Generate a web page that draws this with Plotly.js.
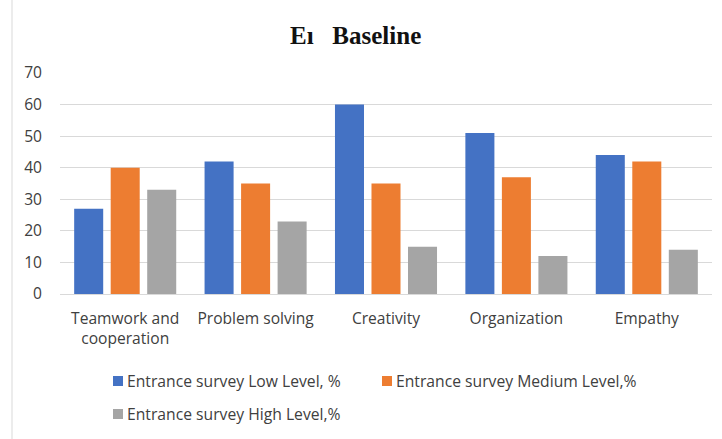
<!DOCTYPE html>
<html><head><meta charset="utf-8">
<script src="https://cdn.plot.ly/plotly-3.0.1.min.js"></script>
<style>html,body{margin:0;padding:0;background:#fff}#chart{width:722px;height:439px}</style>
</head><body><div id="chart"></div>
<script>
const categories = ["Teamwork and<br>cooperation", "Problem solving", "Creativity", "Organization", "Empathy"];
const lowLevel = [27, 42, 60, 51, 44];
const mediumLevel = [40, 35, 35, 37, 42];
const highLevel = [33, 23, 15, 12, 14];
const seriesNames = ["Entrance survey Low Level, %", "Entrance survey Medium Level,%", "Entrance survey High Level,%"];
const yTicks = [0, 10, 20, 30, 40, 50, 60, 70];

const colors = ["#4472C4", "#ED7D31", "#A5A5A5"];
const font = "'Open Sans', sans-serif";
const data = [lowLevel, mediumLevel, highLevel].map((v, i) => ({
  type: "bar", x: categories, y: v, name: seriesNames[i],
  marker: {color: colors[i]}, hoverinfo: "none", showlegend: false
}));

// manual legend placement (pixel -> paper)
const L = 60, W = 652, B = 294, H = 221;
const px = p => (p - L) / W, py = p => (B - p) / H;
const legendSpots = [{x: 113, y: 381}, {x: 382, y: 381}, {x: 113, y: 414}];
const shapes = [{type: "line", xref: "paper", yref: "paper", x0: px(12), x1: px(12), y0: py(439), y1: py(0),
                 line: {color: "#d9d9d9", width: 1}}];
const annotations = [];
legendSpots.forEach((s, i) => {
  shapes.push({type: "rect", xref: "paper", yref: "paper", x0: px(s.x), x1: px(s.x + 10), y0: py(s.y - 5), y1: py(s.y + 5),
               fillcolor: colors[i], line: {width: 0}});
  annotations.push({xref: "paper", yref: "paper", x: px(s.x + 12), y: py(s.y), xanchor: "left", yanchor: "middle",
                    text: seriesNames[i], showarrow: false, font: {family: font, size: 15.7, color: "#404040"}});
});

const layout = {
  width: 722, height: 439,
  margin: {l: L, r: 722 - L - W, t: 73, b: 145},
  paper_bgcolor: "#fff", plot_bgcolor: "#fff",
  title: {text: "E\u0131   Baseline", font: {family: "'Liberation Serif', 'Times New Roman', serif", size: 25, color: "#111", weight: 700},
          xref: "container", yref: "container", x: 290 / 722, xanchor: "left", y: 1 - 35 / 439, yanchor: "middle"},
  barmode: "group", bargap: 0.16, bargroupgap: 0.205,
  xaxis: {showgrid: false, showline: true, linecolor: "#d9d9d9", linewidth: 1, ticks: "",
          tickfont: {family: font, size: 15.6, color: "#404040"}, ticklabelstandoff: 10},
  yaxis: {range: [0, 70], tickvals: yTicks, showgrid: true, gridcolor: "#d9d9d9", gridwidth: 1,
          zeroline: false, showline: false, ticks: "", ticklabelstandoff: 17,
          tickfont: {family: font, size: 15.6, color: "#404040"}},
  showlegend: false,
  shapes: shapes, annotations: annotations
};
Plotly.newPlot("chart", data, layout, {staticPlot: true});
</script></body></html>
